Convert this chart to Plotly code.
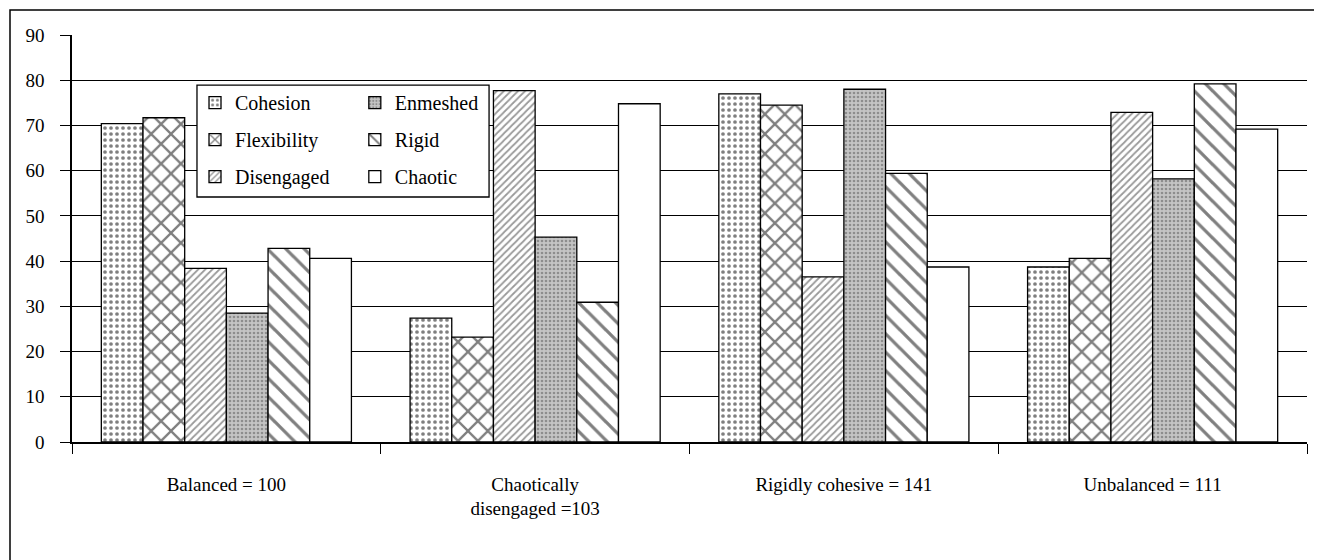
import plotly.graph_objects as go

categories = ["Balanced = 100", "Chaotically<br>disengaged =103", "Rigidly cohesive = 141", "Unbalanced = 111"]
cohesion = [70.4, 27.4, 77.0, 38.7]
flexibility = [71.7, 23.2, 74.5, 40.6]
disengaged = [38.4, 77.7, 36.5, 72.9]
enmeshed = [28.5, 45.3, 78.0, 58.2]
rigid = [42.8, 30.9, 59.4, 79.2]
chaotic = [40.6, 74.8, 38.7, 69.2]

FONT = "Liberation Serif"

series = [
    ("Cohesion", cohesion, dict(shape=".", fgcolor="black", bgcolor="white", size=6, solidity=0.3), "legend", 1),
    ("Flexibility", flexibility, dict(shape="x", fgcolor="black", bgcolor="white", size=14, solidity=0.3), "legend", 2),
    ("Disengaged", disengaged, dict(shape="/", fgcolor="#333333", bgcolor="white", size=5, solidity=0.35), "legend", 3),
    ("Enmeshed", enmeshed, dict(shape=".", fgcolor="#555555", bgcolor="#c4c4c4", size=4, solidity=0.35), "legend2", 4),
    ("Rigid", rigid, dict(shape="\\", fgcolor="black", bgcolor="white", size=13, solidity=0.25), "legend2", 5),
    ("Chaotic", chaotic, None, "legend2", 6),
]

fig = go.Figure()
for name, vals, pat, leg, rank in series:
    marker = dict(color="white", line=dict(color="black", width=1.3))
    if pat:
        marker["pattern"] = pat
    fig.add_trace(go.Bar(name=name, x=categories, y=vals, marker=marker,
                         legend=leg, legendrank=rank, legendgroup=name))

legend_common = dict(
    font=dict(family=FONT, size=20, color="black"),
    bgcolor="rgba(255,255,255,0)", borderwidth=0,
    xanchor="left", yanchor="top", orientation="v",
    itemclick=False, traceorder="grouped", tracegroupgap=8, itemwidth=30,
)

fig.update_layout(
    width=1314, height=552,
    margin=dict(l=64, r=15, t=27, b=118),
    paper_bgcolor="white", plot_bgcolor="white",
    barmode="group", bargap=0.19, bargroupgap=0,
    font=dict(family=FONT, size=19, color="black"),
    showlegend=True,
    legend=dict(x=0.0996, y=0.882, **legend_common),
    legend2=dict(x=0.229, y=0.882, **legend_common),
    xaxis=dict(
        showline=True, linecolor="black", linewidth=1.5,
        ticks="outside", tickson="boundaries", ticklen=10, tickcolor="black",
        showgrid=False, ticklabelstandoff=24,
        tickfont=dict(family=FONT, size=19, color="black"),
    ),
    yaxis=dict(
        range=[0, 90], tickvals=[0, 10, 20, 30, 40, 50, 60, 70, 80, 90],
        showline=True, linecolor="black", linewidth=1.5,
        ticks="outside", ticklen=10, tickcolor="black",
        showgrid=True, gridcolor="black", gridwidth=1.2,
        zeroline=False, ticklabelstandoff=12,
        tickfont=dict(family=FONT, size=19, color="black"),
    ),
    shapes=[
        dict(type="rect", xref="paper", yref="paper",
             x0=0.1012, x1=0.3377, y0=0.602, y1=0.877,
             line=dict(color="black", width=1.3), fillcolor="white", layer="above"),
        dict(type="rect", xref="paper", yref="paper",
             x0=-0.0502, x1=1.2, y0=-0.5, y1=1.0614,
             line=dict(color="black", width=1.5), fillcolor="rgba(0,0,0,0)", layer="above"),
    ],
)

fig.write_html("out.html")
